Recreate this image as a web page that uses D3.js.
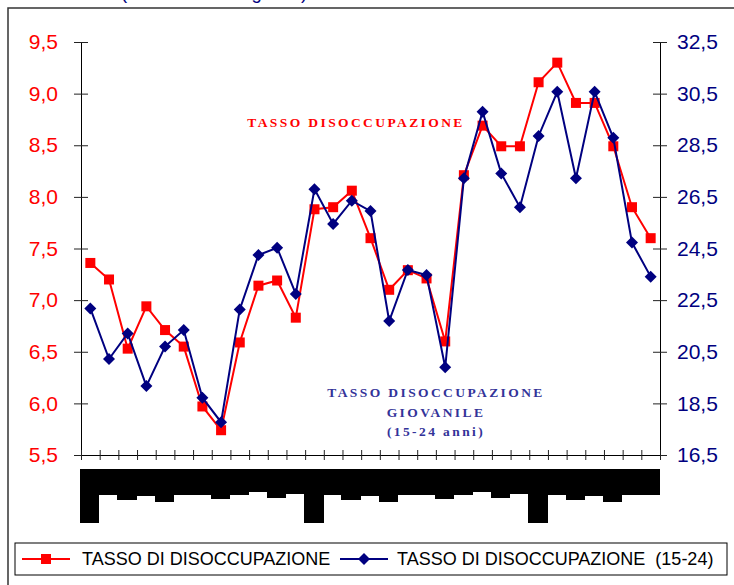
<!DOCTYPE html>
<html>
<head>
<meta charset="utf-8">
<script src="https://cdn.jsdelivr.net/npm/d3@7"></script>
<style>
  body { margin: 0; background: #fff; }
  svg { display: block; }
</style>
</head>
<body>
<div id="chart"></div>
<script>
// monthly labels (the original renders them as solid black blocks)
const monthNames = ["gennaio", "feb", "mar", "apr", "mag", "giu", "lug", "ago", "set", "ott", "nov", "dic"];
const periods = d3.range(31).map(i => monthNames[i % 12]);

// tasso di disoccupazione (left axis)
const tasso = [7.36, 7.20, 6.53, 6.94, 6.71, 6.55, 5.97, 5.74, 6.59, 7.14, 7.19, 6.83,
               7.88, 7.90, 8.06, 7.60, 7.10, 7.29, 7.21, 6.60, 8.21, 8.69, 8.49, 8.49,
               9.11, 9.30, 8.91, 8.91, 8.49, 7.90, 7.60];

// tasso di disoccupazione giovanile 15-24 (right axis)
const tassoGiovani = [22.18, 20.22, 21.21, 19.17, 20.70, 21.34, 18.72, 17.77, 22.14, 24.25, 24.53, 22.74,
                      26.80, 25.45, 26.35, 25.95, 21.69, 23.67, 23.47, 19.90, 27.22, 29.80, 27.41, 26.10,
                      28.86, 30.57, 27.22, 30.57, 28.79, 24.73, 23.41];

const leftTicks = [5.5, 6.0, 6.5, 7.0, 7.5, 8.0, 8.5, 9.0, 9.5];
const rightTicks = [16.5, 18.5, 20.5, 22.5, 24.5, 26.5, 28.5, 30.5, 32.5];

const width = 734, height = 585;
const margin = {top: 42, right: 74, bottom: 130, left: 81};
const RED = "#ff0000", NAVY = "#000080", SLATE = "#333399";

const svg = d3.select("#chart").append("svg")
    .attr("width", width)
    .attr("height", height);

svg.append("rect").attr("width", width).attr("height", height).attr("fill", "#fff");

// outer frame, cut by the window on right and bottom
svg.append("rect")
    .attr("x", 8).attr("y", 8)
    .attr("width", 760).attr("height", 640)
    .attr("fill", "none")
    .attr("stroke", "#333")
    .attr("stroke-width", 1.5);

// title, only its descenders are visible in the window (as in the source)
svg.append("text")
    .attr("x", 121).attr("y", -1)
    .attr("fill", NAVY)
    .style("font", "18.5px 'Liberation Sans', Arial, sans-serif")
    .text("(tassi % su dati grezzi)");

const x = d3.scaleBand()
    .domain(d3.range(periods.length))
    .range([margin.left, width - margin.right]);

const xEdge = d3.scaleLinear()
    .domain([0, periods.length])
    .range([margin.left, width - margin.right]);

const yL = d3.scaleLinear()
    .domain([5.5, 9.5])
    .range([height - margin.bottom, margin.top]);

const yR = d3.scaleLinear()
    .domain([16.5, 32.5])
    .range([height - margin.bottom, margin.top]);

const comma = v => d3.format(".1f")(v).replace(".", ",");

// left axis
let gL = svg.append("g")
    .attr("transform", `translate(${margin.left},0)`)
    .call(d3.axisLeft(yL).tickValues(leftTicks).tickFormat(comma).tickSize(7).tickPadding(16));
gL.selectAll(".tick line").attr("x2", -7).attr("x1", 7);
gL.selectAll("text").attr("fill", RED)
    .style("font", "21px 'Liberation Sans', Arial, sans-serif");

// right axis
let gR = svg.append("g")
    .attr("transform", `translate(${width - margin.right},0)`)
    .call(d3.axisRight(yR).tickValues(rightTicks).tickFormat(comma).tickSize(7).tickPadding(10));
gR.selectAll(".tick line").attr("x1", -7).attr("x2", 7);
gR.selectAll("text").attr("fill", NAVY)
    .style("font", "21px 'Liberation Sans', Arial, sans-serif");

// bottom axis with ticks between categories
let gB = svg.append("g")
    .attr("transform", `translate(0,${height - margin.bottom})`)
    .call(d3.axisBottom(xEdge).tickValues(d3.range(periods.length + 1)).tickFormat("").tickSize(5));
gB.selectAll(".tick line").attr("y1", -5).attr("y2", 5);

svg.selectAll(".domain").attr("stroke", "#000");
svg.selectAll(".tick line").attr("stroke", "#222");

// period labels: black text on black blocks, as in the source picture
let labels = svg.append("g").attr("class", "periodLabels");
let labelTop = height - margin.bottom + 14;
periods.forEach((p, i) => {
  let g = labels.append("g");
  let r = g.append("rect")
      .attr("x", x(i) - 1)
      .attr("y", labelTop)
      .attr("width", x.bandwidth() + 0.8)
      .attr("fill", "#000")
      .attr("shape-rendering", "crispEdges");
  let t = g.append("text")
      .attr("transform", `translate(${x(i) + 3},${labelTop + 5}) rotate(90)`)
      .attr("fill", "#000")
      .style("font", "12.5px 'Liberation Sans', Arial, sans-serif")
      .text(p);
  r.attr("height", Math.round(t.node().getComputedTextLength() + 9));
});

// lines
const lineL = d3.line().x((d, i) => x(i) + x.bandwidth() / 2).y(d => yL(d));
const lineR = d3.line().x((d, i) => x(i) + x.bandwidth() / 2).y(d => yR(d));

svg.append("path")
    .datum(tasso)
    .attr("d", lineL)
    .attr("fill", "none")
    .attr("stroke", RED)
    .attr("stroke-width", 2);

svg.append("g").selectAll("rect")
    .data(tasso)
    .join("rect")
    .attr("x", (d, i) => x(i) + x.bandwidth() / 2 - 5)
    .attr("y", d => yL(d) - 5)
    .attr("width", 10)
    .attr("height", 10)
    .attr("fill", RED);

svg.append("path")
    .datum(tassoGiovani)
    .attr("d", lineR)
    .attr("fill", "none")
    .attr("stroke", NAVY)
    .attr("stroke-width", 2);

const diamond = "M0,-6L6,0L0,6L-6,0Z";
svg.append("g").selectAll("path")
    .data(tassoGiovani)
    .join("path")
    .attr("transform", (d, i) => `translate(${x(i) + x.bandwidth() / 2},${yR(d)})`)
    .attr("d", diamond)
    .attr("fill", NAVY);

// annotations
const serif = "bold 13.5px 'Liberation Serif', 'Times New Roman', serif";
svg.append("text")
    .attr("x", 356).attr("y", 127)
    .attr("text-anchor", "middle")
    .attr("fill", RED)
    .style("font", serif)
    .style("letter-spacing", "2.4px")
    .text("TASSO DISOCCUPAZIONE");

const giovLines = ["TASSO DISOCCUPAZIONE", "GIOVANILE", "(15-24 anni)"];
svg.append("g").selectAll("text")
    .data(giovLines)
    .join("text")
    .attr("x", 436)
    .attr("y", (d, i) => 397 + i * 19.5)
    .attr("text-anchor", "middle")
    .attr("fill", SLATE)
    .style("font", serif)
    .style("letter-spacing", "2.4px")
    .text(d => d);

// legend
let legend = svg.append("g");
legend.append("rect")
    .attr("x", 15).attr("y", 543)
    .attr("width", 712).attr("height", 32)
    .attr("fill", "#fff")
    .attr("stroke", "#000")
    .attr("stroke-width", 1);

const legendFont = "18px 'Liberation Sans', Arial, sans-serif";
legend.append("line")
    .attr("x1", 22).attr("x2", 70).attr("y1", 559).attr("y2", 559)
    .attr("stroke", RED).attr("stroke-width", 2);
legend.append("rect")
    .attr("x", 41).attr("y", 554).attr("width", 10).attr("height", 10)
    .attr("fill", RED);
legend.append("text")
    .attr("x", 82).attr("y", 565)
    .attr("fill", "#000")
    .style("font", legendFont)
    .text("TASSO DI DISOCCUPAZIONE");

legend.append("line")
    .attr("x1", 340).attr("x2", 388).attr("y1", 559).attr("y2", 559)
    .attr("stroke", NAVY).attr("stroke-width", 2);
legend.append("path")
    .attr("transform", "translate(364,559)")
    .attr("d", diamond)
    .attr("fill", NAVY);
legend.append("text")
    .attr("x", 397).attr("y", 565)
    .attr("fill", "#000")
    .style("font", legendFont)
    .style("white-space", "pre")
    .text("TASSO DI DISOCCUPAZIONE  (15-24)");
</script>
</body>
</html>
